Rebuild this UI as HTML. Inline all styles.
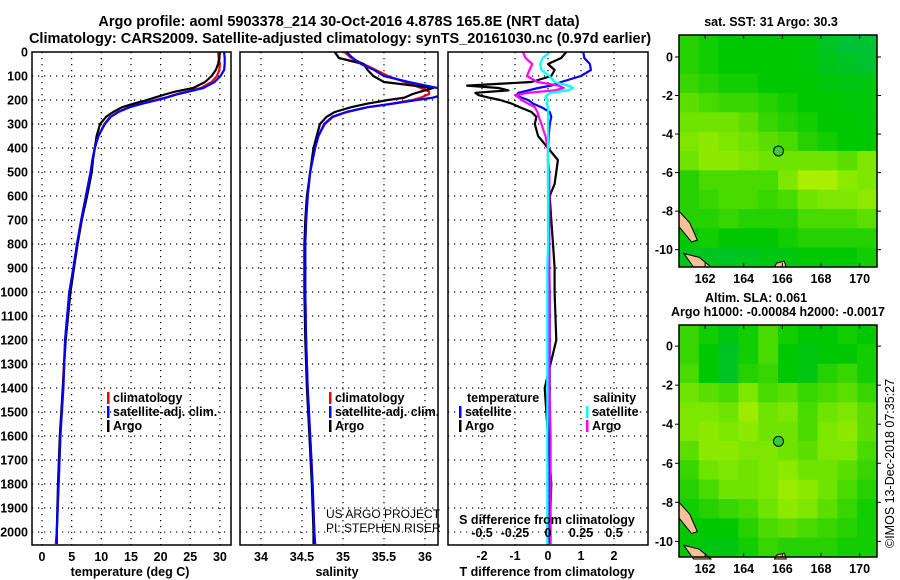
<!DOCTYPE html>
<html><head><meta charset="utf-8">
<style>
html,body{margin:0;padding:0;background:#fff;}
svg{display:block;font-family:"Liberation Sans",Arial,sans-serif;}
.b{font-weight:bold;font-size:12.5px;}
</style></head>
<body>
<svg id="chart" width="900" height="580" viewBox="0 0 900 580" xmlns="http://www.w3.org/2000/svg">
<text x="339" y="26" text-anchor="middle" font-size="14.5" font-weight="bold">Argo profile: aoml 5903378_214 30-Oct-2016 4.878S 165.8E (NRT data)</text>
<text x="340" y="43" text-anchor="middle" font-size="14.5" font-weight="bold">Climatology: CARS2009. Satellite-adjusted climatology: synTS_20161030.nc (0.97d earlier)</text>
<g id="layer"></g>
<text x="771" y="26" text-anchor="middle" class="b">sat. SST: 31 Argo: 30.3</text>
<text x="756" y="302" text-anchor="middle" class="b">Altim. SLA: 0.061</text>
<text x="778" y="316" text-anchor="middle" class="b">Argo h1000: -0.00084 h2000: -0.0017</text>
<text transform="translate(894,548) rotate(-90)" font-size="12.5">©IMOS 13-Dec-2018 07:35:27</text>
<text x="326" y="518" font-size="12">US ARGO PROJECT</text>
<text x="326" y="532" font-size="12">PI: STEPHEN RISER</text>
</svg>
<script>
// ---- profile data ----
const depths = [0,25,50,75,100,125,150,165,175,190,200,215,230,250,270,300,350,400,450,500,600,700,800,900,1000,1200,1400,1600,1800,2000,2050];
const tempArgo = [30.0,29.9,29.7,29.3,28.6,27.5,25.5,22.5,21,19,17.7,15.5,13.5,12,10.8,9.8,9.2,8.9,8.6,8.4,7.6,6.7,6.0,5.4,4.8,4.0,3.5,3.0,2.7,2.5,2.5];
const tempClim = [29.7,29.8,30.0,29.9,29.5,28.6,26.8,24.5,22.8,20.8,19.2,16.8,14.6,12.8,11.5,10.5,9.5,8.9,8.5,8.2,7.4,6.6,5.9,5.3,4.6,3.9,3.5,3.1,2.8,2.5,2.3];
const tempSat = [30.7,30.8,30.8,30.7,30.1,29.1,27.2,24.8,23,21,19.4,17,14.8,12.9,11.6,10.6,9.5,8.9,8.5,8.2,7.4,6.6,5.9,5.3,4.6,3.9,3.6,3.1,2.8,2.5,2.5];
const salArgo = [34.9,34.95,35.25,35.3,35.37,35.5,36.1,35.95,35.85,35.75,35.55,35.3,35.1,34.9,34.8,34.72,34.68,34.64,34.62,34.6,34.56,34.54,34.53,34.53,34.53,34.54,34.56,34.59,34.62,34.64,34.64];
const salClim = [35.02,35.1,35.25,35.4,35.55,35.75,35.95,36.05,36.05,35.95,35.85,35.6,35.3,35.05,34.88,34.78,34.7,34.66,34.63,34.6,34.57,34.55,34.54,34.54,34.54,34.55,34.57,34.6,34.63,34.65,34.66];
const salSat = [35.04,35.12,35.22,35.38,35.5,35.8,36.15,36.3,36.25,36.1,35.9,35.62,35.3,35.04,34.87,34.77,34.7,34.66,34.63,34.6,34.57,34.55,34.54,34.54,34.54,34.55,34.57,34.6,34.63,34.65,34.66];
const diffDepths = [0,25,50,75,100,125,140,150,160,170,180,190,200,215,230,250,270,300,350,400,450,500,550,600,700,800,900,1000,1200,1400,1600,1800,2000,2050];
const dTArgo = [0.55,0.4,0,0.2,0.1,-0.5,-2.45,-1.5,-1.2,-2.2,-2.1,-1.8,-1.45,-1.1,-0.85,-0.5,-0.35,-0.4,-0.3,0,0.3,0.25,0.2,0.05,0.1,0.15,0.2,0.2,0.25,-0.1,0.0,0.1,0.05,0.05];
const dTSat = [1.07,1.1,1.27,1.3,1.0,0.4,0.1,-0.3,-0.6,-0.9,-0.95,-0.8,-0.6,-0.45,-0.2,0.05,0.1,0.05,0.02,0,0,0,0,0.02,0.03,0.03,0.04,0.05,0.05,0.05,0.05,0.05,0.05,0.05];
const dSArgo = [-0.19,-0.17,-0.12,-0.14,-0.16,-0.08,0.08,0.12,0.05,-0.15,-0.25,-0.22,-0.2,-0.15,-0.1,-0.08,-0.07,-0.05,-0.02,0,0,0.01,0.01,0.01,0.01,0.01,0.01,0.01,0.01,0.01,0.02,0.02,0.02,0.02];
const dSSat = [0.015,-0.04,-0.06,-0.05,0.01,0.05,0.15,0.19,0.15,0.02,-0.01,-0.02,0,-0.01,0,0,0,0,0,0,0,0,0,0,0,0,-0.005,-0.005,-0.005,-0.005,-0.005,-0.005,-0.005,-0.005];
const depthTicks = [0,100,200,300,400,500,600,700,800,900,1000,1100,1200,1300,1400,1500,1600,1700,1800,1900,2000];
const tempTicks = [0,5,10,15,20,25,30];
const salTicks = [34,34.5,35,35.5,36];
const salTickLabels = ["34","34.5","35","35.5","36"];
const tDiffTicks = [-2,-1,0,1,2];
const sDiffTicks = [-0.5,-0.25,0,0.25,0.5];
const sDiffTickLabels = ["-0.5","-0.25","0","0.25","0.5"];
// map fields (rows north->south, cols west->east), colour index 0..1.2
const sstField = [
[0.5,0.45,0.4,0.4,0.4,0.4,0.38,0.3,0.25,0.25],
[0.5,0.45,0.4,0.4,0.4,0.4,0.38,0.33,0.3,0.28],
[0.55,0.5,0.45,0.45,0.4,0.4,0.4,0.37,0.35,0.35],
[0.65,0.6,0.55,0.55,0.5,0.45,0.4,0.4,0.38,0.38],
[0.7,0.7,0.7,0.65,0.55,0.5,0.45,0.4,0.4,0.38],
[0.75,0.8,0.75,0.7,0.65,0.6,0.5,0.45,0.4,0.4],
[0.7,0.8,0.8,0.75,0.7,0.7,0.7,0.7,0.65,0.75],
[0.5,0.6,0.6,0.6,0.6,0.75,0.9,0.9,0.8,0.75],
[0.5,0.55,0.6,0.6,0.55,0.6,0.7,0.75,0.75,0.8],
[0.5,0.5,0.55,0.5,0.5,0.5,0.6,0.6,0.6,0.65],
[0.4,0.45,0.4,0.4,0.4,0.45,0.5,0.5,0.5,0.5],
[0.32,0.32,0.3,0.32,0.35,0.35,0.4,0.4,0.4,0.45]];
const slaField = [
[0.55,0.45,0.35,0.45,0.6,0.45,0.4,0.4,0.45,0.4],
[0.55,0.4,0.3,0.45,0.6,0.4,0.35,0.4,0.4,0.45],
[0.6,0.4,0.3,0.5,0.55,0.4,0.35,0.5,0.55,0.45],
[0.7,0.65,0.6,0.75,0.6,0.65,0.55,0.6,0.65,0.55],
[0.75,0.75,0.7,0.85,0.7,0.75,0.6,0.7,0.75,0.65],
[0.75,0.8,0.75,0.8,0.7,0.7,0.6,0.75,0.8,0.65],
[0.65,0.8,0.8,0.75,0.75,0.7,0.65,0.75,0.75,0.6],
[0.55,0.7,0.75,0.7,0.75,0.8,0.7,0.7,0.65,0.55],
[0.5,0.6,0.7,0.7,0.75,0.85,0.8,0.7,0.6,0.5],
[0.45,0.5,0.55,0.6,0.7,0.8,0.75,0.65,0.55,0.45],
[0.4,0.4,0.4,0.5,0.6,0.65,0.6,0.55,0.5,0.45],
[0.4,0.35,0.35,0.45,0.55,0.5,0.5,0.5,0.45,0.45]];
const lonTicks = [162,164,166,168,170];
const latTicks = [0,-2,-4,-6,-8,-10];

const NS = "http://www.w3.org/2000/svg";
const layer = document.getElementById('layer');
function mk(tag, attrs, parent){const e=document.createElementNS(NS,tag);for(const k in attrs)e.setAttribute(k,attrs[k]);(parent||layer).appendChild(e);return e;}
function txt(x,y,s,anchor,cls,parent){const t=mk('text',{x:x,y:y,'text-anchor':anchor||'middle','class':cls||'b'},parent);t.textContent=s;return t;}

const PT=52, PB=545, D0=0, D1=2054;
const yD = d => PT + (d-D0)/(D1-D0)*(PB-PT);

const panels = [
 {x0:32,x1:231,v0:-1.69,v1:31.87,name:'temperature-panel'},
 {x0:240,x1:438,v0:33.744,v1:36.159,name:'salinity-panel'},
 {x0:448,x1:648,v0:-3.03,v1:3.03,name:'difference-panel'}
];
const xScale = p => v => p.x0 + (v-p.v0)/(p.v1-p.v0)*(p.x1-p.x0);
const sScale = v => 548 + v*132;

depthTicks.forEach(d=>{
  const t=txt(28,yD(d)+4.5,String(d),'end');
  
  
});

panels.forEach((p,i)=>{
  const g=mk('g',{});
  
  
  const ticks = i==0?tempTicks:(i==1?salTicks:tDiffTicks);
  const xs=xScale(p);
  depthTicks.forEach(d=>{ if(d>0) mk('line',{x1:p.x0,x2:p.x1,y1:yD(d),y2:yD(d),stroke:'#000','stroke-width':1.2,'stroke-dasharray':'1.2 4.8'},g);});
  ticks.forEach(v=>{ mk('line',{x1:xs(v),x2:xs(v),y1:PT,y2:PB,stroke:'#000','stroke-width':1.2,'stroke-dasharray':'1.2 4.8'},g);});
  p.g=g; p.xs=xs; p.ticks=ticks;
});

function line(g,xs,vals,ds,color,name){
  const pts=vals.map((v,k)=>xs(v).toFixed(1)+','+yD(ds[k]).toFixed(1)).join(' ');
  const l=mk('polyline',{points:pts,fill:'none',stroke:color,'stroke-width':2.2,'stroke-linejoin':'round'},g);
  
  
}
const cp = id => { const c=mk('clipPath',{id:id}); return c; };
panels.forEach((p,i)=>{ const c=cp('clip'+i); mk('rect',{x:p.x0,y:PT,width:p.x1-p.x0,height:PB-PT},c); });
const lg0=mk('g',{'clip-path':'url(#clip0)'},panels[0].g);
line(lg0,panels[0].xs,tempClim,depths,'#f00','temp-climatology-line');
line(lg0,panels[0].xs,tempArgo,depths,'#000','temp-argo-line');
line(lg0,panels[0].xs,tempSat,depths,'#00f','temp-satellite-line');
const lg1=mk('g',{'clip-path':'url(#clip1)'},panels[1].g);
line(lg1,panels[1].xs,salClim,depths,'#f00','sal-climatology-line');
line(lg1,panels[1].xs,salArgo,depths,'#000','sal-argo-line');
line(lg1,panels[1].xs,salSat,depths,'#00f','sal-satellite-line');
const lg2=mk('g',{'clip-path':'url(#clip2)'},panels[2].g);
line(lg2,panels[2].xs,dTArgo,diffDepths,'#000','tdiff-argo-line');
line(lg2,panels[2].xs,dTSat,diffDepths,'#00f','tdiff-satellite-line');
line(lg2,sScale,dSArgo,diffDepths,'#f0f','sdiff-argo-line');
line(lg2,sScale,dSSat,diffDepths,'#0ff','sdiff-satellite-line');

panels.forEach((p,i)=>{
  const r=mk('rect',{x:p.x0,y:PT,width:p.x1-p.x0,height:PB-PT,fill:'none',stroke:'#000','stroke-width':1.5},p.g);
  
  
  const labs = i==1?salTickLabels:p.ticks.map(String);
  p.ticks.forEach((v,k)=>{
    const t=txt(p.xs(v),i==2?560:561,labs[k],'middle','b',p.g);
    
    
  });
});
sDiffTicks.forEach((v,k)=>{
  const t=txt(sScale(v),537,sDiffTickLabels[k],'middle','b',panels[2].g);
  
  
});
let t;
t=txt(130,576,'temperature (deg C)');  
t=txt(337,576,'salinity');  
t=txt(547,576,'T difference from climatology');  
t=txt(547,524,'S difference from climatology');  

function legend(x,y,items,name){
  const g=mk('g',{});
  
  
  items.forEach((it,k)=>{
    if(it[1]) mk('rect',{x:x,y:y+k*14-10,width:2.5,height:12,fill:it[1]},g);
    const e=txt(x+(it[1]?6:0),y+k*14,it[0],'start','b',g);
    
    
  });
}
legend(107,402,[['climatology','#f00'],['satellite-adj. clim.','#00f'],['Argo','#000']],'temp-legend');
legend(329,402,[['climatology','#f00'],['satellite-adj. clim.','#00f'],['Argo','#000']],'sal-legend');
legend(467,402,[['temperature',null]],'tdiff-legend-title');
legend(459,416,[['satellite','#00f'],['Argo','#000']],'tdiff-legend');
legend(593,402,[['salinity',null]],'sdiff-legend-title');
legend(586,416,[['satellite','#0ff'],['Argo','#f0f']],'sdiff-legend');

function col(v){
  const stops=[[0,[0,184,144]],[0.4,[0,200,0]],[0.7,[110,228,0]],[1.0,[200,245,0]],[1.2,[255,180,0]]];
  for(let k=1;k<stops.length;k++){ if(v<=stops[k][0]){const a=stops[k-1],b=stops[k];const f=(v-a[0])/(b[0]-a[0]);return 'rgb('+a[1].map((c,j)=>Math.round(c+(b[1][j]-c)*f)).join(',')+')';}}
  return 'rgb(255,180,0)';
}
function map(top,bot,lat0,lat1,field,name){
  const L=679,R=877,lon0=160.65,lon1=170.9;
  const xm=lo=>L+(lo-lon0)/(lon1-lon0)*(R-L);
  const ym=la=>top+(lat0-la)/(lat0-lat1)*(bot-top);
  const g=mk('g',{});
  
  
  const rows=field.length, cols=field[0].length;
  field.forEach((row,r)=>row.forEach((v,c)=>{
    const cell=mk('rect',{x:(L+c*(R-L)/cols).toFixed(1),y:(top+r*(bot-top)/rows).toFixed(1),width:((R-L)/cols+0.5).toFixed(1),height:((bot-top)/rows+0.5).toFixed(1),fill:col(v)},g);
    
    
  }));
  mk('path',{d:`M${xm(160.65)},${ym(-8.0)} L${xm(161.2)},${ym(-8.6)} L${xm(161.6)},${ym(-9.5)} L${xm(161.3)},${ym(-9.6)} L${xm(160.65)},${ym(-8.8)} Z`,fill:'#f5c09a',stroke:'#000','stroke-width':1},g);
  mk('path',{d:`M${xm(160.9)},${ym(-10.2)} L${xm(161.7)},${ym(-10.4)} L${xm(162.3)},${ym(-10.9)} L${xm(161.4)},${ym(-10.9)} Z`,fill:'#f5c09a',stroke:'#000','stroke-width':1},g);
  mk('path',{d:`M${xm(165.7)},${ym(-10.7)} L${xm(166.1)},${ym(-10.6)} L${xm(166.2)},${ym(-10.9)} L${xm(165.6)},${ym(-10.9)} Z`,fill:'#f5c09a',stroke:'#000','stroke-width':1},g);
  const fr=mk('rect',{x:L,y:top,width:R-L,height:bot-top,fill:'none',stroke:'#000','stroke-width':1.5},g);
  
  
  const dot=mk('circle',{cx:xm(165.8),cy:ym(-4.878),r:5,fill:'#3c3',stroke:'#000','stroke-width':1},g);
  
  
  lonTicks.forEach(lo=>{
    mk('line',{x1:xm(lo),x2:xm(lo),y1:top,y2:top+4,stroke:'#000'},g);
    mk('line',{x1:xm(lo),x2:xm(lo),y1:bot,y2:bot-4,stroke:'#000'},g);
    const e=txt(xm(lo),bot+16,String(lo),'middle','b',g);
    
    
  });
  latTicks.forEach(la=>{
    mk('line',{x1:L,x2:L-4,y1:ym(la),y2:ym(la),stroke:'#000'},g);
    mk('line',{x1:R,x2:R+4,y1:ym(la),y2:ym(la),stroke:'#000'},g);
    const e=txt(L-6,ym(la)+4.5,String(la),'end','b',g);
    
    
  });
}
map(35,267,1.14,-10.9,sstField,'sst-map');
map(325,557,1.08,-10.8,slaField,'sla-map');
</script>
</body></html>
